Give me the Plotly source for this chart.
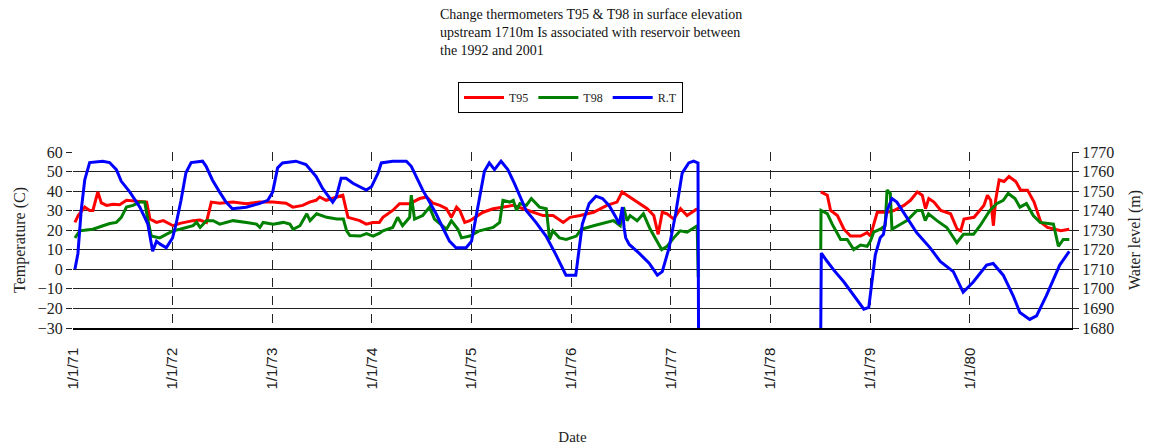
import plotly.graph_objects as go

# ---- Data ----
t95_dates = [
    "1971-01-08","1971-01-20","1971-02-13","1971-03-03","1971-03-15","1971-04-02","1971-04-15","1971-05-04",
    "1971-05-28","1971-06-21","1971-07-16","1971-09-03","1971-09-28","1971-10-10","1971-11-03","1971-11-28",
    "1971-12-10","1972-01-03","1972-01-28","1972-03-16","1972-04-10","1972-05-04","1972-05-22","1972-06-22",
    "1972-08-09","1972-09-27","1972-11-15","1973-01-02","1973-02-20","1973-03-17","1973-04-22","1973-05-17",
    "1973-06-10","1973-06-23","1973-07-17","1973-08-23","1973-09-16","1973-10-05","1973-11-17","1973-12-11",
    "1974-01-04","1974-01-28","1974-02-10","1974-03-18","1974-04-12","1974-05-19","1974-06-25","1974-07-20",
    "1974-08-13","1974-09-07","1974-10-01","1974-10-19","1974-11-07","1974-11-19","1974-12-07","1974-12-26",
    "1975-01-13","1975-02-12","1975-03-21","1975-04-27","1975-06-03","1975-07-09","1975-08-14","1975-09-20",
    "1975-10-27","1975-12-03","1975-12-28","1976-02-03","1976-03-23","1976-05-11","1976-06-17","1976-07-06",
    "1976-07-24","1976-08-30","1976-10-06","1976-10-30","1976-11-15","1976-11-30","1976-12-18","1977-01-11",
    "1977-02-05","1977-03-01","1977-04-07",
    "1977-10-01",
    "1978-07-04","1978-07-28","1978-08-09","1978-09-03","1978-09-27","1978-10-21","1978-11-27","1978-12-21",
    "1979-01-02","1979-01-14","1979-01-27","1979-03-04","1979-03-29","1979-05-05","1979-05-29","1979-06-23",
    "1979-07-11","1979-07-23","1979-08-04","1979-08-23","1979-09-17","1979-10-23","1979-11-16","1979-11-29",
    "1979-12-11","1980-01-17","1980-02-22","1980-03-06","1980-03-18","1980-03-28","1980-04-05","1980-04-18",
    "1980-05-06","1980-05-24","1980-06-18","1980-07-06","1980-07-31","1980-08-24","1980-09-05","1980-09-18",
    "1980-10-12","1980-11-30","1980-12-31",
]
t95_values = [
    24, 27.5, 31.8, 30.1, 30.1, 39.6, 34, 32.7,
    33.3, 33, 35.3, 34.8, 34.4, 25.7, 24, 24.9,
    24, 22.3, 23.5, 24.9, 25.2, 24, 34.4, 33.8,
    34.4, 33.6, 34.4, 34.4, 33.8, 31.8, 32.7, 34.4,
    35.3, 37, 35.3, 37, 37.9, 26.6, 24.9, 23.1,
    23.9, 24, 26.6, 30.1, 33.6, 33.6, 36.2, 37,
    33.8, 32.7, 31, 26.6, 31.8, 30.1, 24, 24.9,
    26.6, 29.2, 31, 32, 32.7, 31, 29.2, 27.5,
    27.5, 24, 26.6, 27.5, 29.2, 32.7, 34.4, 39.6,
    37.9, 34.4, 31, 27.5, 17.9, 29.2, 28.4, 25.7,
    31, 27.5, 31,
    None,
    39.6, 37.9, 30.1, 27.5, 20.5, 17, 17, 18.8,
    17, 23.1, 29.2, 29.2, 30.1, 32.7, 35.3, 39.6,
    37.9, 31, 36.2, 34.4, 30.1, 28.4, 20.5, 19.7,
    25.7, 26.6, 32.7, 37.9, 35.3, 22.3, 35.3, 45.7,
    44.9, 47.5, 44.9, 40.5, 40.5, 34.4, 29.2, 24,
    21.4, 19.7, 20.5,
]

t98_dates = [
    "1971-01-08","1971-01-26","1971-02-19","1971-03-15","1971-04-21","1971-05-16","1971-06-09","1971-06-27",
    "1971-07-16","1971-08-09","1971-09-03","1971-09-21","1971-10-03","1971-10-15","1971-11-15","1971-12-09",
    "1972-01-02","1972-01-28","1972-02-21","1972-03-16","1972-03-29","1972-04-11","1972-05-04","1972-05-29",
    "1972-06-22","1972-07-17","1972-08-10","1972-09-28","1972-11-04","1972-11-16","1972-11-28","1973-01-04",
    "1973-02-10","1973-03-06","1973-03-18","1973-04-12","1973-05-07","1973-05-19","1973-06-12","1973-07-19",
    "1973-08-25","1973-09-18","1973-09-30","1973-10-12","1973-11-18","1973-12-12","1974-01-05","1974-01-29",
    "1974-02-10","1974-03-18","1974-04-05","1974-04-23","1974-05-19","1974-05-25","1974-06-06","1974-07-06",
    "1974-07-31","1974-08-18","1974-09-07","1974-10-01","1974-10-19","1974-11-12","1974-11-25","1974-12-26",
    "1975-01-30","1975-03-21","1975-04-14","1975-04-26","1975-05-21","1975-06-03","1975-06-15","1975-06-27",
    "1975-07-21","1975-08-08","1975-09-07","1975-10-02","1975-10-14","1975-10-26","1975-11-19","1975-12-14",
    "1976-01-20","1976-02-07","1976-03-23","1976-05-11","1976-06-04","1976-06-29","1976-07-11","1976-07-24",
    "1976-08-04","1976-08-30","1976-09-22","1976-10-17","1976-11-10","1976-11-28","1976-12-18","1977-01-11",
    "1977-02-04","1977-03-01","1977-04-07","1977-04-11",
    "1977-10-01",
    "1978-07-04","1978-07-05","1978-07-28","1978-08-15","1978-09-15","1978-10-09","1978-11-02","1978-11-27",
    "1978-12-21","1979-01-02","1979-01-14","1979-02-07","1979-02-25","1979-03-04","1979-03-16","1979-03-22",
    "1979-04-21","1979-05-16","1979-06-22","1979-07-10","1979-07-22","1979-08-03","1979-09-03","1979-10-09",
    "1979-11-15","1979-12-09","1980-01-15","1980-02-08","1980-03-15","1980-04-09","1980-05-03","1980-05-21",
    "1980-06-15","1980-07-03","1980-07-27","1980-08-21","1980-09-15","1980-11-03","1980-11-21","1980-12-09",
    "1980-12-31",
]
t98_values = [
    16.1, 19.7, 20.1, 20.5, 22.3, 23.4, 24, 26.6,
    31.8, 32.7, 34.4, 34.4, 24.9, 17, 16.1, 17.8,
    19.7, 20.5, 21.4, 22.3, 24, 21.4, 24.9, 24.9,
    23.1, 24, 24.9, 24, 23.1, 21.4, 24, 23.1,
    24, 23.1, 20.5, 22.3, 28.4, 24.9, 28.4, 26.6,
    25.7, 25.7, 19.7, 17.3, 17, 18.3, 17, 18.5,
    19.7, 21.4, 26.6, 22.3, 26.6, 37.9, 25.7, 27.5,
    31.8, 25.7, 23.1, 20.5, 24.9, 20.5, 16.1, 17,
    19.7, 21.4, 24, 35.3, 34.4, 35.3, 30.1, 33.6,
    32.7, 36.2, 31.8, 31, 15.3, 19.7, 16.1, 15.3,
    17, 20.5, 22.3, 24, 24.9, 22.3, 31.8, 24.9,
    27.5, 24.9, 28.4, 20.5, 14.4, 10.1, 11.8, 16.1,
    19.7, 19, 22.3, -4,
    None,
    10.1, 30.1, 28.5, 23.1, 15.3, 15.3, 10.1, 12.4,
    11.8, 14.4, 19, 20.5, 22.3, 40.5, 38.8, 20.5,
    22.9, 24.9, 30.1, 30.1, 24.9, 28.4, 24.9, 21.4,
    13.6, 17.9, 17.9, 22.3, 30.1, 33.6, 35.3, 38.8,
    36.2, 31.8, 33.6, 27.5, 24, 23.1, 11.8, 15.3,
    15.3,
]

rt_dates = [
    "1971-01-08","1971-01-19","1971-01-31","1971-02-13","1971-03-03","1971-04-20","1971-05-15","1971-06-09",
    "1971-06-27","1971-07-28","1971-09-03","1971-10-02","1971-10-20","1971-11-03","1971-11-15","1971-12-09",
    "1972-01-01","1972-01-14","1972-02-01","1972-02-19","1972-03-09","1972-04-20","1972-05-03","1972-05-26",
    "1972-06-21","1972-07-15","1972-08-07","1972-09-27","1972-11-14","1972-12-15","1973-01-02","1973-01-20",
    "1973-02-07","1973-03-28","1973-05-04","1973-06-10","1973-07-04","1973-08-10","1973-08-23","1973-09-10",
    "1973-09-28","1973-10-23","1973-12-11","1973-12-30","1974-01-23","1974-02-04","1974-03-18","1974-05-07",
    "1974-05-25","1974-06-12","1974-07-06","1974-07-31","1974-08-24","1974-09-17","1974-10-12","1974-11-05",
    "1974-12-12","1975-01-01","1975-01-12","1975-01-30","1975-02-17","1975-03-07","1975-03-26","1975-04-19",
    "1975-05-14","1975-06-07","1975-07-02","1975-07-20","1975-08-25","1975-10-01","1975-11-06","1975-12-13",
    "1976-01-18","1976-01-30","1976-02-11","1976-03-07","1976-04-01","1976-04-25","1976-05-19","1976-06-13",
    "1976-06-25","1976-07-07","1976-07-13","1976-07-19","1976-08-01","1976-09-06","1976-10-13","1976-11-12",
    "1976-11-30","1976-12-25","1977-01-18","1977-02-11","1977-03-07","1977-03-25","1977-04-10","1977-04-12",
    "1977-10-01",
    "1978-07-04","1978-07-06","1978-07-28","1978-08-21","1978-09-27","1978-11-02","1978-12-09","1978-12-27",
    "1979-01-08","1979-01-20","1979-02-07","1979-02-19","1979-03-04","1979-03-22","1979-04-09","1979-05-16",
    "1979-06-21","1979-08-09","1979-09-15","1979-11-02","1979-12-08","1980-01-14","1980-03-03","1980-03-27",
    "1980-05-03","1980-06-08","1980-07-03","1980-08-08","1980-09-02","1980-10-08","1980-11-26","1980-12-31",
]
rt_values = [
    1710, 1718, 1740, 1755.7, 1764.6, 1765.3, 1764.6, 1761,
    1755, 1749.6, 1741.8, 1733.3, 1719.2, 1724.4, 1723, 1721,
    1726.1, 1733.3, 1745.3, 1759.4, 1764.6, 1765.3, 1762.7, 1755.7,
    1749.6, 1744.4, 1741, 1741.8, 1743.6, 1745.3, 1749.6, 1761.9,
    1764.4, 1765.3, 1763.6, 1757.5, 1751.4, 1744.4, 1747, 1756.6,
    1756.6, 1754, 1750.5, 1752.2, 1759.2, 1764.4, 1765.3, 1765.3,
    1762.7, 1757.5, 1750.5, 1744.4, 1738.4, 1731.4, 1724.4, 1721,
    1721, 1724.4, 1733.1, 1747, 1760.1, 1764.4, 1761, 1765.3,
    1761, 1754, 1746.2, 1740.1, 1734, 1727, 1717.5, 1707,
    1707, 1721, 1733.1, 1743.6, 1747.4, 1746.2, 1742.7, 1736.6,
    1733.1, 1741.8, 1731.4, 1726.1, 1722.7, 1718.3, 1713.1, 1707,
    1708.8, 1721, 1738.4, 1759.2, 1764.4, 1765.3, 1764.4, 1680,
    None,
    1680, 1718.3, 1714, 1709.6, 1703.5, 1696.6, 1689.6, 1690.5,
    1703.5, 1717.4, 1726.1, 1727.9, 1740.1, 1746.2, 1744.4, 1736.6,
    1728.7, 1721, 1714, 1708.8, 1698.3, 1703.5, 1712.2, 1713,
    1707, 1696.6, 1687.9, 1684.4, 1686.2, 1696.6, 1712.2, 1719.2,
]

x_tick_dates = ["1971-01-01", "1972-01-01", "1973-01-01", "1974-01-01", "1975-01-01",
                "1976-01-01", "1977-01-01", "1978-01-01", "1979-01-01", "1980-01-01"]

title_lines = [
    "Change thermometers T95 & T98 in surface elevation",
    "upstream 1710m Is associated with reservoir between",
    "the 1992 and 2001",
]

SERIF = "Liberation Serif, Times New Roman, serif"
SANS = "Liberation Sans, Arial, sans-serif"

# page body has an 8px margin, so the figure is sized to fit inside the window
W, H = 1143, 440

fig = go.Figure()
fig.add_trace(go.Scatter(x=t95_dates, y=t95_values, name="T95", mode="lines",
                         line=dict(color="#FF0000", width=3)))
fig.add_trace(go.Scatter(x=t98_dates, y=t98_values, name="T98", mode="lines",
                         line=dict(color="#008000", width=3)))
fig.add_trace(go.Scatter(x=rt_dates, y=rt_values, name="R.T", mode="lines", yaxis="y2",
                         line=dict(color="#0000FF", width=3)))

fig.update_layout(
    width=W, height=H,
    margin=dict(l=65, r=79, t=144, b=120, autoexpand=False),
    paper_bgcolor="white", plot_bgcolor="white",
    showlegend=True,
    legend=dict(orientation="h", xref="container", yref="container",
                x=450 / W, xanchor="left", y=1 - 74 / H, yanchor="top",
                bordercolor="black", borderwidth=1, bgcolor="white",
                font=dict(family=SERIF, size=12, color="#222"),
                itemwidth=40, tracegroupgap=0),
    xaxis=dict(
        type="date", range=["1971-01-01", "1981-01-10"],
        tickmode="array", tickvals=x_tick_dates, tickformat="%-m/%-d/%y",
        tickangle=-90, ticks="", ticklabelstandoff=12,
        tickfont=dict(family=SANS, size=15, color="#222"),
        showgrid=True, gridcolor="#222", gridwidth=1, griddash="dash",
        showline=True, linecolor="black", linewidth=1.5,
        title=dict(text="Date", font=dict(family=SERIF, size=15, color="#222"), standoff=43),
        zeroline=False, automargin=False,
    ),
    yaxis=dict(
        range=[-30, 60], dtick=10, tick0=0,
        ticks="outside", ticklen=6, tickcolor="#222",
        tickfont=dict(family=SERIF, size=16, color="#222"),
        showgrid=True, gridcolor="#222", gridwidth=1.2,
        showline=False, zeroline=False, automargin=False,
        title=dict(text="Temperature (C)", font=dict(family=SERIF, size=16, color="#222"), standoff=8),
    ),
    yaxis2=dict(
        range=[1680, 1770], dtick=10, tick0=1680,
        overlaying="y", side="right",
        ticks="outside", ticklen=6, tickcolor="#222",
        tickfont=dict(family=SERIF, size=16, color="#222"),
        showgrid=False, showline=True, linecolor="#222", linewidth=1.2, zeroline=False,
        automargin=False,
        title=dict(text="Water level (m)", font=dict(family=SERIF, size=16, color="#222"), standoff=15),
    ),
)

fig.add_annotation(
    text="<br>".join(title_lines), showarrow=False,
    xref="paper", yref="paper", x=365 / 999, y=323 / 176,
    xanchor="left", yanchor="top", align="left",
    font=dict(family=SERIF, size=14, color="#111"),
)

fig.write_html("out.html")
